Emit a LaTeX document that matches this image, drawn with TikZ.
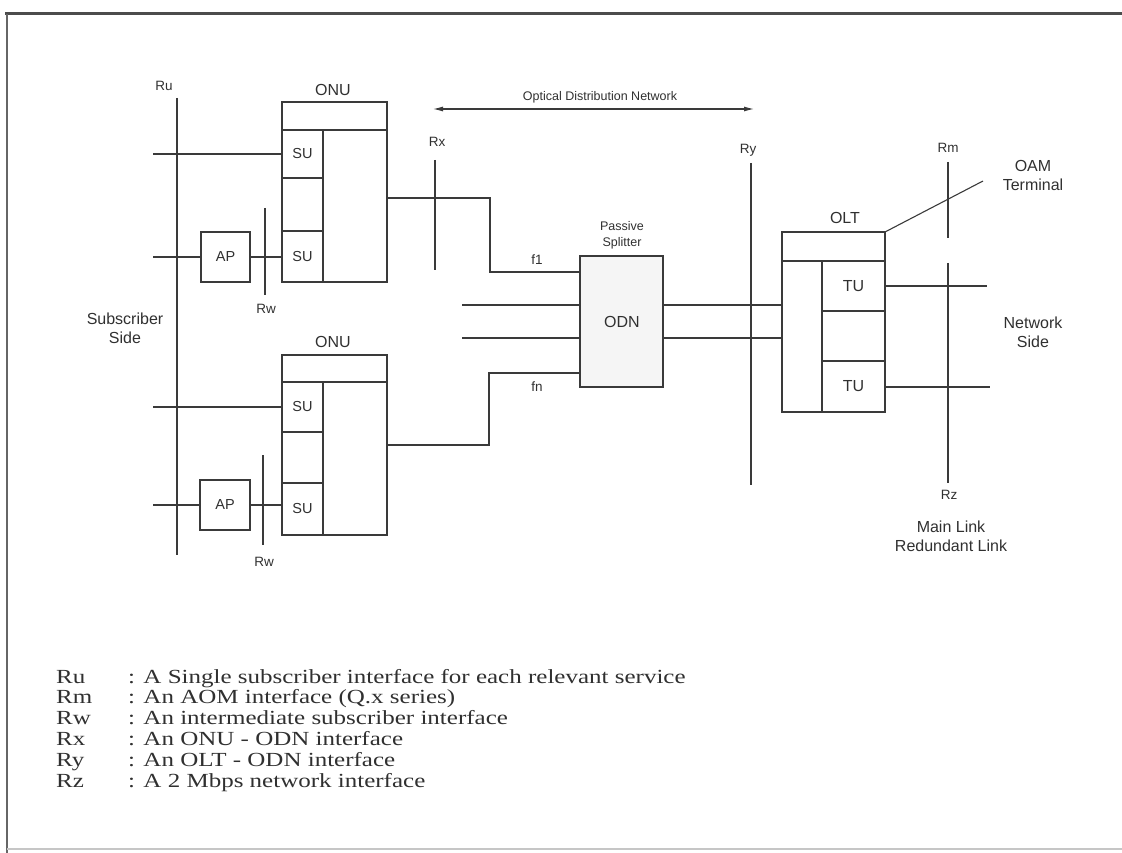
\documentclass[tikz,border=0pt]{standalone}
\usepackage{fontspec}
\setmainfont{Liberation Sans}
\newfontfamily\legendfont[FakeStretch=1.25]{Liberation Serif}
\usetikzlibrary{arrows.meta}
\definecolor{linec}{HTML}{3A3A3A}
\definecolor{txtc}{HTML}{303030}
\tikzset{
  box/.style={draw=linec, line width=1.1pt, inner sep=0pt, outer sep=0pt},
  wire/.style={draw=linec, line width=1.1pt},
  big/.style={font=\fontsize{16}{19}\selectfont, text=txtc, inner sep=0pt, align=center},
  mid/.style={font=\fontsize{14.5}{17}\selectfont, text=txtc},
  small/.style={font=\fontsize{13.5}{16}\selectfont, text=txtc, inner sep=0pt, align=center},
  legkey/.style={font=\legendfont\fontsize{20}{22}\selectfont, text=txtc, anchor=base west, inner sep=0pt},
}
\begin{document}
\begin{tikzpicture}[x=1pt,y=-1pt]
\useasboundingbox (0,0) rectangle (1122,853);
% frame
\draw[line width=3pt, draw=black!70] (5,14) -- (1122,14);
\draw[line width=1.5pt, draw=black!60] (7,14) -- (7,853);
\draw[line width=1.5pt, draw=gray!45] (7,849) -- (1122,849);

% ---------- top ONU ----------
\node[box, minimum width=105, minimum height=180] (onuA) at (334.5,192) {};
\node[box, minimum width=105, minimum height=28] (onuAh) at (334.5,116) {};
\node[box, mid, minimum width=41, minimum height=48] (suA1) at (302.5,154) {SU};
\node[box, minimum width=41, minimum height=53] (suA2) at (302.5,204.5) {};
\node[box, mid, minimum width=41, minimum height=51] (suA3) at (302.5,256.5) {SU};
\node[big] (onuAl) at (333,90) {ONU};
\node[box, mid, minimum width=49, minimum height=50] (apA) at (225.5,257) {AP};

% ---------- bottom ONU ----------
\node[box, minimum width=105, minimum height=180] (onuB) at (334.5,445) {};
\node[box, minimum width=105, minimum height=27] (onuBh) at (334.5,368.5) {};
\node[box, mid, minimum width=41, minimum height=50] (suB1) at (302.5,407) {SU};
\node[box, minimum width=41, minimum height=51] (suB2) at (302.5,457.5) {};
\node[box, mid, minimum width=41, minimum height=52] (suB3) at (302.5,509) {SU};
\node[big] (onuBl) at (333,342) {ONU};
\node[box, mid, minimum width=50, minimum height=50] (apB) at (225,505) {AP};

% subscriber inputs
\coordinate (inA1) at (153,154);
\coordinate (inA2) at (153,257);
\coordinate (inB1) at (153,407);
\coordinate (inB2) at (153,505);
\draw[wire] (inA1) -- (suA1.west);
\draw[wire] (inA2) -- (apA.west);
\draw[wire] (apA.east) -- (apA.east -| suA3.west);
\draw[wire] (inB1) -- (suB1.west);
\draw[wire] (inB2) -- (apB.west);
\draw[wire] (apB.east) -- (apB.east -| suB3.west);

% Ru line
\coordinate (ruT) at (177,98);
\coordinate (ruB) at (177,555);
\draw[wire] (ruT) -- (ruB);
\node[small] (ru) at (164,86) {Ru};
\node[big] (subs) at (125,328) {Subscriber\\Side};

% Rw lines
\coordinate (rwAT) at (265,208);
\coordinate (rwAB) at (265,295);
\draw[wire] (rwAT) -- (rwAB);
\node[small] (rwA) at (266,309) {Rw};
\coordinate (rwBT) at (263,455);
\coordinate (rwBB) at (263,545);
\draw[wire] (rwBT) -- (rwBB);
\node[small] (rwB) at (264,562) {Rw};

% ---------- ODN ----------
\node[box, fill=gray!8, minimum width=83, minimum height=131] (odn) at (621.5,321.5) {};
\node[big] (odnl) at (622,322) {ODN};
\node[small, font=\fontsize{12.5}{16}\selectfont] (pass) at (622,235) {Passive\\Splitter};

% ONU A -> ODN (f1)
\coordinate (kA1) at (490,198);
\coordinate (kA2) at (490,272);
\draw[wire] (onuA.east |- kA1) -- (kA1) -- (kA2) -- (kA2 -| odn.west);
\node[small] (f1) at (537,260) {f1};
% ONU B -> ODN (fn)
\coordinate (kB1) at (489,445);
\coordinate (kB2) at (489,373);
\draw[wire] (onuB.east |- kB1) -- (kB1) -- (kB2) -- (kB2 -| odn.west);
\node[small] (fn) at (537,387) {fn};
% other branches
\coordinate (s1) at (462,305);
\coordinate (s2) at (462,338);
\draw[wire] (s1) -- (s1 -| odn.west);
\draw[wire] (s2) -- (s2 -| odn.west);

% Rx
\coordinate (rxT) at (435,160);
\coordinate (rxB) at (435,270);
\draw[wire] (rxT) -- (rxB);
\node[small] (rx) at (437,142) {Rx};

% Optical Distribution Network arrow
\coordinate (odnL) at (433,109);
\coordinate (odnR) at (754,109);
\draw[wire, {Latex[length=10pt,width=5pt]}-{Latex[length=10pt,width=5pt]}] (odnL) -- (odnR);
\node[small, font=\fontsize{12.5}{15}\selectfont] (odnt) at (600,97) {Optical Distribution Network};

% ---------- OLT ----------
\node[box, minimum width=103, minimum height=180] (olt) at (833.5,322) {};
\node[box, minimum width=103, minimum height=29] (olth) at (833.5,246.5) {};
\node[box, big, minimum width=63, minimum height=50] (tu1) at (853.5,286) {TU};
\node[box, minimum width=63, minimum height=50] (tu2) at (853.5,336) {};
\node[box, big, minimum width=63, minimum height=51] (tu3) at (853.5,386.5) {TU};
\node[big] (oltl) at (845,218) {OLT};

% ODN -> OLT
\draw[wire] (odn.east |- s1) -- (s1 -| olt.west);
\draw[wire] (odn.east |- s2) -- (s2 -| olt.west);

% Ry
\coordinate (ryT) at (751,163);
\coordinate (ryB) at (751,485);
\draw[wire] (ryT) -- (ryB);
\node[small] (ry) at (748,150) {Ry};

% network side lines
\coordinate (n1) at (987,286);
\coordinate (n2) at (990,387);
\draw[wire] (tu1.east) -- (n1);
\draw[wire] (tu3.east |- n2) -- (n2);

% Rm / Rz
\coordinate (rmT) at (948,162);
\coordinate (rmM) at (948,238);
\coordinate (rzT) at (948,263);
\coordinate (rzB) at (948,483);
\draw[wire] (rmT) -- (rmM);
\draw[wire] (rzT) -- (rzB);
\node[small] (rm) at (948,148) {Rm};
\node[small] (rz) at (949,495) {Rz};
\node[big] (links) at (951,536) {Main Link\\Redundant Link};

% OAM
\coordinate (oamE) at (983,181);
\draw[wire] (olt.north east) -- (oamE);
\node[big] (oam) at (1033,175) {OAM\\Terminal};
\node[big] (nets) at (1033,332) {Network\\Side};

% ---------- legend ----------
\foreach \k/\t [count=\i from 0] in {Ru/{: A Single subscriber interface for each relevant service},
  Rm/{: An AOM interface (Q.x series)},
  Rw/{: An intermediate subscriber interface},
  Rx/{: An ONU - ODN interface},
  Ry/{: An OLT - ODN interface},
  Rz/{: A 2 Mbps network interface}}{
  \node[legkey] (lk\i) at (56,683+20.9*\i) {\k};
  \node[legkey] (lt\i) at (128,683+20.9*\i) {\t};
}
\end{tikzpicture}
\end{document}
